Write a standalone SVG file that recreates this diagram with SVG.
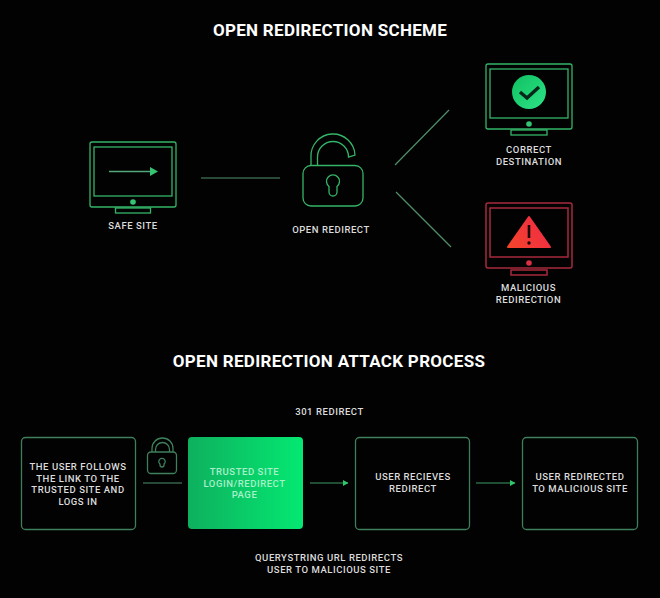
<svg xmlns="http://www.w3.org/2000/svg" width="660" height="598" viewBox="0 0 660 598">
<defs>
<linearGradient id="gf" x1="0" y1="0" x2="1" y2="0"><stop offset="0" stop-color="#0eb05e"/><stop offset="1" stop-color="#04e872"/></linearGradient>
<linearGradient id="gc" x1="0" y1="0" x2="1" y2="1"><stop offset="0" stop-color="#0fc060"/><stop offset="1" stop-color="#2ee488"/></linearGradient>
<linearGradient id="gr" gradientUnits="userSpaceOnUse" x1="506" y1="247" x2="551" y2="216"><stop offset="0" stop-color="#f5452a"/><stop offset="1" stop-color="#ee2848"/></linearGradient>
<marker id="ah" markerUnits="userSpaceOnUse" markerWidth="6" markerHeight="6" refX="5" refY="3" orient="auto"><path d="M0 0L5.500 3L0 6Z" fill="#2ec76b"/></marker>
</defs>
<style>
text{font-family:Roboto,"Liberation Sans",sans-serif;fill:#dcdcdc;font-size:9.500px;font-weight:500;letter-spacing:.55px;text-anchor:middle}
.t{font-size:17px;font-weight:700;fill:#fff;letter-spacing:.3px}
.g{fill:none;stroke:#35b568;stroke-width:1.300}
.r{fill:none;stroke:#a82a3c;stroke-width:1.500}
.c{fill:none;stroke:#4f8f68;stroke-width:1.200}
.b{fill:none;stroke:#3f7f5c;stroke-width:1.300}
</style>
<rect width="660" height="598" fill="#020202"/>
<text class="t" x="330" y="36">OPEN REDIRECTION SCHEME</text>
<text class="t" x="329" y="367">OPEN REDIRECTION ATTACK PROCESS</text>
<g id="connectors">
<path class="c" d="M201 178H280"/>
<path class="c" d="M395 165L449 110"/>
<path class="c" d="M396 192L451 247"/>
<path class="c" d="M143 483H182"/>
<path d="M310 483H348" fill="none" stroke="#3f9a63" stroke-width="1.200" marker-end="url(#ah)"/>
<path d="M476 483H515" fill="none" stroke="#3f9a63" stroke-width="1.200" marker-end="url(#ah)"/>
</g>
<g id="safe-site">
<rect class="g" x="90" y="142" width="86" height="65" rx="2"/>
<rect class="g" x="94" y="147" width="78" height="49"/>
<circle cx="133" cy="202" r="2.800" fill="#35c471"/>
<rect class="g" x="115.500" y="208" width="35" height="5"/>
<path d="M109 171.500H152" fill="none" stroke="#52a677" stroke-width="1.300"/>
<path d="M150 167L158 171.500L150 176Z" fill="#35c471"/>
<text x="133" y="229">SAFE SITE</text>
</g>
<g id="open-redirect">
<rect class="g" x="303" y="165.500" width="60" height="40.500" rx="8"/>
<path class="g" d="M311 165V157A22 22 0 0 1 355 155L348.500 157A15.500 15.500 0 0 0 317.500 157V165"/>
<path class="g" d="M329 192V186.500A6.500 6.500 0 1 1 337 186.500V192A4 4 0 0 1 329 192Z"/>
<text x="331" y="233">OPEN REDIRECT</text>
</g>
<g id="correct-destination">
<rect class="g" x="486" y="64" width="86" height="65" rx="2"/>
<rect class="g" x="490" y="69" width="78" height="49"/>
<circle cx="529" cy="124" r="2.800" fill="#35c471"/>
<rect class="g" x="511" y="130" width="36" height="5"/>
<circle cx="529" cy="92" r="17" fill="url(#gc)"/>
<path d="M520 92L527 98L539 87" fill="none" stroke="#06281a" stroke-width="3.400"/>
<text x="529" y="153">CORRECT</text>
<text x="529" y="164.500">DESTINATION</text>
</g>
<g id="malicious-redirection">
<rect class="r" x="486" y="203" width="86" height="65" rx="2"/>
<rect class="r" x="490" y="208" width="78" height="49"/>
<circle cx="529" cy="263" r="2.800" fill="#d93045"/>
<rect class="r" x="511" y="270" width="36" height="5"/>
<path d="M529 217L550 247H508Z" fill="url(#gr)" stroke="url(#gr)" stroke-width="2" stroke-linejoin="round"/>
<path d="M529 225V238" stroke="#1a0505" stroke-width="2.600" fill="none"/>
<circle cx="529" cy="243" r="1.700" fill="#1a0505"/>
<text x="528.500" y="291">MALICIOUS</text>
<text x="528.500" y="302.500">REDIRECTION</text>
</g>
<g id="lock-small">
<rect class="b" x="147.500" y="452" width="29" height="21.500" rx="3.500"/>
<path class="b" d="M152 452V448.500A10.500 10.500 0 0 1 173 448.500V452"/>
<path class="b" d="M155.500 452V449.500A7 7 0 0 1 169.500 449.500V452"/>
<path class="b" d="M160.500 464.500V463.500A3.200 3.200 0 1 1 164.500 463.500V464.500A2 2 0 0 1 160.500 464.500Z" transform="translate(-.500 .500)"/>
</g>
<text x="329.500" y="415">301 REDIRECT</text>
<g id="user-follows">
<rect class="b" x="21.500" y="437.500" width="114" height="92" rx="4"/>
<text x="78" y="470">THE USER FOLLOWS</text>
<text x="78" y="481.500">THE LINK TO THE</text>
<text x="78" y="493">TRUSTED SITE AND</text>
<text x="78" y="504.500">LOGS IN</text>
</g>
<g id="trusted-site">
<rect x="188" y="437" width="115" height="92" rx="4" fill="url(#gf)"/>
<text x="244.500" y="475" style="fill:#a8f0c8">TRUSTED SITE</text>
<text x="244.500" y="486.500" style="fill:#a8f0c8">LOGIN/REDIRECT</text>
<text x="244.500" y="498" style="fill:#a8f0c8">PAGE</text>
</g>
<g id="user-receives">
<rect class="b" x="355.500" y="437.500" width="114" height="92" rx="4"/>
<text x="413" y="480">USER RECIEVES</text>
<text x="413" y="491.500">REDIRECT</text>
</g>
<g id="user-redirected">
<rect class="b" x="522.500" y="437.500" width="115" height="92" rx="4"/>
<text x="580" y="480">USER REDIRECTED</text>
<text x="580" y="491.500">TO MALICIOUS SITE</text>
</g>
<text x="329" y="561">QUERYSTRING URL REDIRECTS</text>
<text x="329" y="572.500">USER TO MALICIOUS SITE</text>
</svg>
